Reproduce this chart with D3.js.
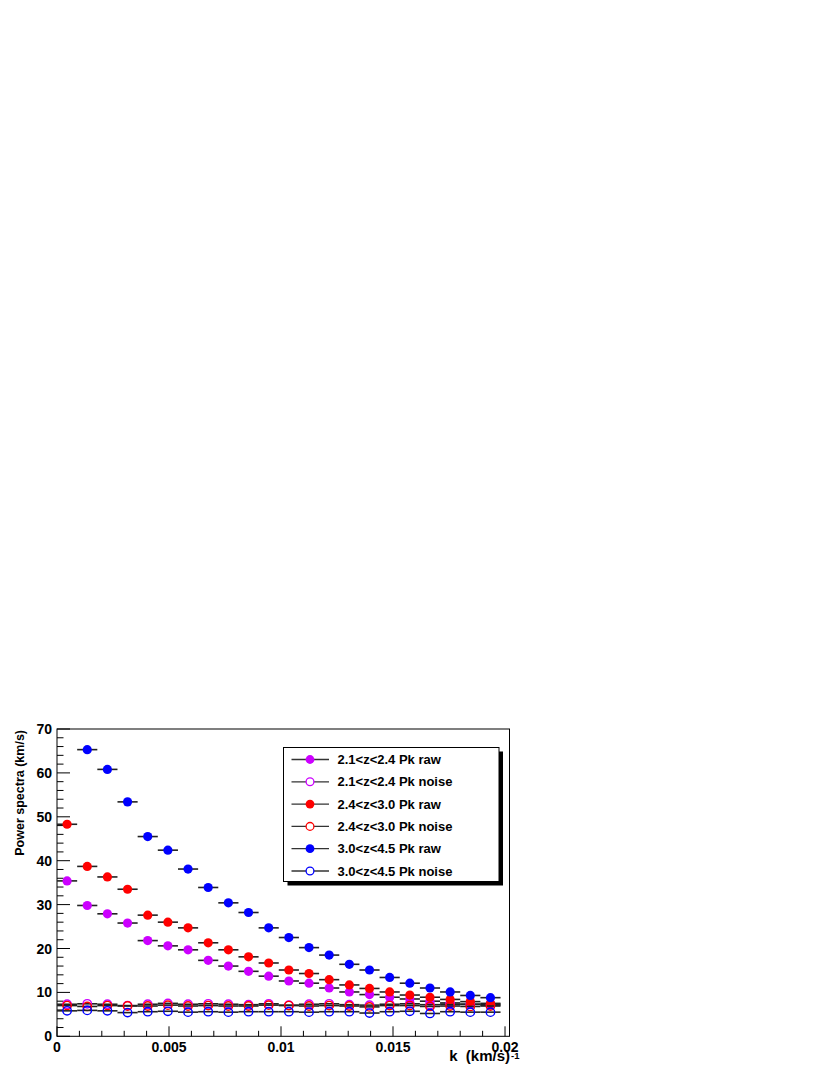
<!DOCTYPE html>
<html><head><meta charset="utf-8">
<script src="https://cdn.jsdelivr.net/npm/d3@7"></script>
<style>body{margin:0;background:#fff}svg{display:block}text{font-family:"Liberation Sans",Arial,sans-serif;font-weight:bold}</style>
</head><body>
<script>
const binWidth = 0.0009;
const kCenters = [0.00045,0.00135,0.00225,0.00315,0.00405,0.00495,0.00585,0.00675,0.00765,0.00855,0.00945,0.01035,0.01125,0.01215,0.01305,0.01395,0.01485,0.01575,0.01665,0.01755,0.01845,0.01935];
const raw21 = [35.4,29.8,27.9,25.8,21.8,20.6,19.7,17.3,16.0,14.8,13.7,12.6,12.1,11.0,10.1,9.5,8.9,8.5,8.0,7.6,7.3,7.1];
const noise21 = [7.3,7.4,7.3,7.0,7.3,7.5,7.3,7.4,7.3,7.2,7.4,7.1,7.3,7.4,7.2,7.1,7.3,7.4,7.2,7.3,7.3,7.3];
const raw24 = [48.3,38.7,36.3,33.5,27.6,26.0,24.7,21.3,19.7,18.1,16.7,15.1,14.3,12.9,11.7,10.9,10.1,9.4,8.9,8.4,7.9,7.5];
const noise24 = [7.0,6.8,7.0,6.9,6.9,7.1,6.9,7.0,6.9,6.9,7.1,7.0,6.9,7.0,6.9,6.7,7.0,7.0,6.8,6.9,6.8,6.9];
const raw30 = [null,65.3,60.8,53.4,45.5,42.4,38.1,33.9,30.4,28.2,24.7,22.5,20.2,18.5,16.4,15.1,13.4,12.1,11.0,10.1,9.3,8.8];
const noise30 = [5.8,5.9,5.8,5.4,5.6,5.7,5.5,5.6,5.5,5.6,5.6,5.6,5.5,5.6,5.6,5.3,5.6,5.7,5.2,5.6,5.5,5.5];
const seriesNames = ["2.1<z<2.4 Pk raw","2.1<z<2.4 Pk noise","2.4<z<3.0 Pk raw","2.4<z<3.0 Pk noise","3.0<z<4.5 Pk raw","3.0<z<4.5 Pk noise"];
const seriesValues = [raw21, noise21, raw24, noise24, raw30, noise30];
const seriesColors = ["#cc00ff","#cc00ff","#ff0000","#ff0000","#0000ff","#0000ff"];
const seriesFilled = [true,false,true,false,true,false];
const xTicks = [0,0.005,0.01,0.015,0.02];
const xTickLabels = ["0","0.005","0.01","0.015","0.02"];
const yTicks = [0,10,20,30,40,50,60,70];

const W=830,H=1075;
const L=57,R=509.5,T=729,B=1036.3;
const svg=d3.select("body").append("svg").attr("width",W).attr("height",H);
const x=d3.scaleLinear().domain([0,0.0202]).range([L,R]);
const y=d3.scaleLinear().domain([0,70]).range([B,T]);

// frame
svg.append("rect").attr("x",L).attr("y",T).attr("width",R-L).attr("height",B-T).attr("fill","none").attr("stroke","#000").attr("stroke-width",1);

// x axis ticks
const xMinor=d3.range(0,0.02001,0.001);
svg.append("g").selectAll("line").data(xMinor).join("line")
  .attr("x1",d=>x(d)).attr("x2",d=>x(d)).attr("y1",B).attr("y2",(d,i)=>i%5===0?B-10:B-5.5)
  .attr("stroke","#000").attr("stroke-width",1);
svg.append("g").selectAll("text").data(xTicks).join("text")
  .attr("x",d=>x(d)).attr("y",1051.5).attr("text-anchor","middle").attr("font-size",14).text((d,i)=>xTickLabels[i]);

// y axis ticks
const yMinor=d3.range(0,70.01,2);
svg.append("g").selectAll("line").data(yMinor).join("line")
  .attr("x1",L).attr("x2",d=>L+(d%10===0?13:6.5)).attr("y1",d=>y(d)).attr("y2",d=>y(d))
  .attr("stroke","#000").attr("stroke-width",1);
svg.append("g").selectAll("text").data(yTicks).join("text")
  .attr("x",52).attr("y",d=>y(d)+5).attr("text-anchor","end").attr("font-size",14).text(d=>d);

// axis titles
svg.append("text").attr("transform","translate(24,730) rotate(-90)").attr("text-anchor","end").attr("font-size",12.5).text("Power spectra (km/s)");
svg.append("text").attr("x",510).attr("y",1061).attr("text-anchor","end").attr("font-size",15).text("k\u00a0\u00a0(km/s)");
svg.append("text").attr("x",511).attr("y",1058.5).attr("font-size",9.5).text("-1");

// data
seriesValues.forEach((vals,si)=>{
  const pts=kCenters.map((k,i)=>({k,v:vals[i]})).filter(d=>d.v!==null);
  const g=svg.append("g");
  g.selectAll("line").data(pts).join("line")
    .attr("x1",d=>x(d.k-binWidth/2)).attr("x2",d=>x(d.k+binWidth/2))
    .attr("y1",d=>y(d.v)).attr("y2",d=>y(d.v))
    .attr("stroke","#222").attr("stroke-width",1.6);
  g.selectAll("circle").data(pts).join("circle")
    .attr("cx",d=>x(d.k)).attr("cy",d=>y(d.v)).attr("r",seriesFilled[si]?4.6:4.2)
    .attr("fill",seriesFilled[si]?seriesColors[si]:"none")
    .attr("stroke",seriesColors[si]).attr("stroke-width",seriesFilled[si]?0:1.4);
});

// legend
const lx=283.5,ly=747.5,lw=215.5,lh=134;
svg.append("rect").attr("x",lx+4).attr("y",ly+4).attr("width",lw).attr("height",lh).attr("fill","#000");
svg.append("rect").attr("x",lx).attr("y",ly).attr("width",lw).attr("height",lh).attr("fill","#fff").attr("stroke","#000").attr("stroke-width",1);
const rowY=d3.scaleLinear().domain([0,5]).range([759.5,871]);
seriesNames.forEach((name,i)=>{
  const yy=rowY(i);
  svg.append("line").attr("x1",291.5).attr("x2",329).attr("y1",yy).attr("y2",yy).attr("stroke","#333").attr("stroke-width",1.3);
  svg.append("circle").attr("cx",310).attr("cy",yy).attr("r",seriesFilled[i]?4.4:3.9)
    .attr("fill",seriesFilled[i]?seriesColors[i]:"#fff").attr("stroke",seriesColors[i]).attr("stroke-width",seriesFilled[i]?0:1.3);
  svg.append("text").attr("x",337.5).attr("y",yy+4.6).attr("font-size",13).text(name);
});
</script>
</body></html>
